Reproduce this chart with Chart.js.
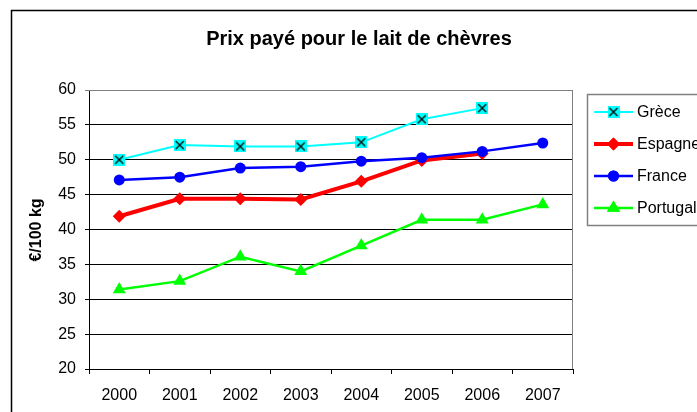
<!DOCTYPE html>
<html>
<head>
<meta charset="utf-8">
<script src="https://cdn.jsdelivr.net/npm/chart.js@4/dist/chart.umd.min.js"></script>
<style>
  html, body { margin: 0; padding: 0; background: #fff; }
  canvas { display: block; }
</style>
</head>
<body>
<canvas id="c" width="697" height="412"></canvas>
<script>
// Prix du lait de chèvre (€/100 kg), 2000-2007
const years = ['2000', '2001', '2002', '2003', '2004', '2005', '2006', '2007'];
const grece = [50.0, 52.1, 51.9, 51.9, 52.5, 55.8, 57.4, null];
const espagne = [41.9, 44.4, 44.4, 44.3, 46.9, 49.9, 50.9, null];
const france = [47.1, 47.5, 48.8, 49.0, 49.8, 50.3, 51.2, 52.4];
const portugal = [31.4, 32.6, 36.1, 34.0, 37.7, 41.4, 41.4, 43.6];
const yMin = 20, yMax = 60, yStep = 5;

const FONT = "'Liberation Sans', Arial, sans-serif";

// cyan square with a black cross, used as the Grèce marker
function crossSquare(size) {
  const cv = document.createElement('canvas');
  cv.width = size; cv.height = size;
  const g = cv.getContext('2d');
  g.fillStyle = '#00ffff';
  g.fillRect(0, 0, size, size);
  g.strokeStyle = '#000';
  g.lineWidth = 1.3;
  g.beginPath();
  g.moveTo(2, 2); g.lineTo(size - 2, size - 2);
  g.moveTo(size - 2, 2); g.lineTo(2, size - 2);
  g.stroke();
  return cv;
}
const greceMarker = crossSquare(12);

const frame = {
  id: 'frame',
  beforeDraw(chart) {
    const c = chart.ctx;
    c.save();
    c.fillStyle = '#fff';
    c.fillRect(0, 0, chart.width, chart.height);
    c.strokeStyle = '#000';
    c.lineWidth = 1.5;
    c.strokeRect(11.5, 10.5, 900, 600);
    // title
    c.fillStyle = '#000';
    c.font = 'bold 20px ' + FONT;
    c.textAlign = 'center';
    c.textBaseline = 'middle';
    c.fillText('Prix payé pour le lait de chèvres', 359, 39);
    // y axis title
    c.save();
    c.translate(37, 230);
    c.rotate(-Math.PI / 2);
    c.font = 'bold 16px ' + FONT;
    c.fillText('€/100 kg', 0, 0);
    c.restore();
    c.restore();
  },
  beforeDatasetsDraw(chart) {
    const a = chart.chartArea, c = chart.ctx;
    c.save();
    c.strokeStyle = '#808080';
    c.lineWidth = 1;
    c.beginPath();
    c.moveTo(a.left, a.top + 0.5);
    c.lineTo(a.right - 0.5, a.top + 0.5);
    c.lineTo(a.right - 0.5, a.bottom);
    c.stroke();
    c.restore();
  },
  afterDraw(chart) {
    // legend box on the right
    const c = chart.ctx;
    c.save();
    c.strokeStyle = '#808080';
    c.lineWidth = 1.5;
    c.strokeRect(587.5, 94.5, 200, 131);
    const rows = [112, 144, 176, 208];
    chart.data.datasets.forEach((ds, i) => {
      const y = rows[i];
      c.strokeStyle = ds.borderColor;
      c.lineWidth = ds.borderWidth;
      c.beginPath();
      c.moveTo(594, y); c.lineTo(633, y);
      c.stroke();
      if (typeof ds.pointStyle === 'string') {
        c.fillStyle = ds.pointBackgroundColor;
        c.beginPath();
        Chart.helpers.drawPoint(c, { pointStyle: ds.pointStyle, radius: ds.pointRadius, borderWidth: 0, rotation: 0 }, 613.5, y);
        c.fill();
      } else {
        Chart.helpers.drawPoint(c, { pointStyle: ds.pointStyle, radius: ds.pointRadius, borderWidth: 0, rotation: 0 }, 613.5, y);
      }
      c.fillStyle = '#000';
      c.font = '16px ' + FONT;
      c.textAlign = 'left';
      c.textBaseline = 'middle';
      c.fillText(ds.label, 637, y + 1);
    });
    c.restore();
  }
};

new Chart(document.getElementById('c'), {
  type: 'line',
  data: {
    labels: years,
    datasets: [
      { label: 'Grèce', data: grece, borderColor: '#00ffff', borderWidth: 2,
        pointStyle: greceMarker, pointRadius: 6, pointBackgroundColor: '#00ffff', order: 1 },
      { label: 'Espagne', data: espagne, borderColor: '#ff0000', borderWidth: 4,
        pointStyle: 'rectRot', pointRadius: 6.5, pointBackgroundColor: '#ff0000',
        pointBorderWidth: 0, order: 2 },
      { label: 'France', data: france, borderColor: '#0000ff', borderWidth: 2.5,
        pointStyle: 'circle', pointRadius: 5.5, pointBackgroundColor: '#0000ff',
        pointBorderWidth: 0, order: 0 },
      { label: 'Portugal', data: portugal, borderColor: '#00ff00', borderWidth: 2.5,
        pointStyle: 'triangle', pointRadius: 7.5, pointBackgroundColor: '#00ff00',
        pointBorderWidth: 0, order: 3 }
    ]
  },
  options: {
    responsive: false,
    animation: false,
    spanGaps: false,
    layout: { padding: { left: 0, top: 90, right: 124, bottom: 0 } },
    plugins: { legend: { display: false }, title: { display: false }, tooltip: { enabled: false } },
    elements: { line: { tension: 0 }, point: { hoverRadius: 6 } },
    scales: {
      x: {
        offset: true,
        grid: { offset: true, drawOnChartArea: false, drawTicks: true, tickLength: 5, color: '#000', lineWidth: 1 },
        border: { color: '#000', width: 1 },
        ticks: { color: '#000', font: { family: FONT, size: 16 }, padding: 12, maxRotation: 0 },
        afterFit(s) { s.height = 43; }
      },
      y: {
        min: yMin, max: yMax,
        grid: {
          color: (ctx) => (ctx.tick && ctx.tick.value === yMax ? '#808080' : '#000'),
          lineWidth: 1, tickLength: 4
        },
        border: { color: '#000', width: 1 },
        ticks: { stepSize: yStep, color: '#000', font: { family: FONT, size: 16 }, padding: 9 },
        afterFit(s) { s.width = 89; }
      }
    }
  },
  plugins: [frame]
});
</script>
</body>
</html>
